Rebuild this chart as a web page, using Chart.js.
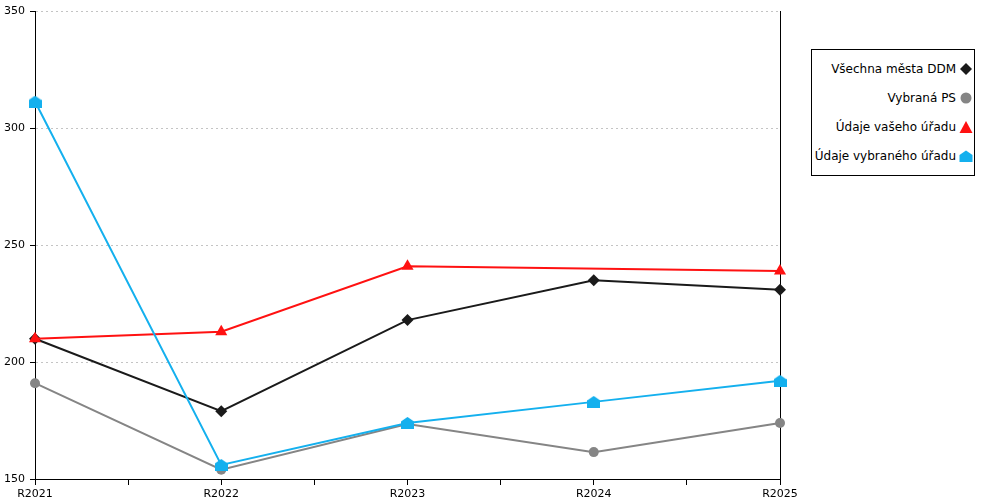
<!DOCTYPE html>
<html>
<head>
<meta charset="utf-8">
<script src="https://cdn.jsdelivr.net/npm/chart.js"></script>
<style>
  html, body { margin: 0; padding: 0; background: #fff; }
  #wrap { position: relative; width: 1000px; height: 500px; }
  #legend {
    position: absolute; left: 811px; top: 49px; width: 162px; height: 125px;
    border: 1px solid #000; background: #fff;
    font: 12px "DejaVu Sans", sans-serif; color: #000;
  }
  #legend .item { position: absolute; right: 1px; height: 16px; display: flex; align-items: center; }
  #legend .item span { margin-right: 3px; white-space: nowrap; }
</style>
</head>
<body>
<div id="wrap">
  <canvas id="chart" width="1000" height="500"></canvas>
  <div id="legend"></div>
</div>
<script>
// categories and values
const years = ['R2021', 'R2022', 'R2023', 'R2024', 'R2025'];
const allCities = [210, 179, 218, 235, 231];
const selectedPS = [191, 154, 173.5, 161.5, 174];
const yourOffice = [210, 213, 241, null, 239];
const selectedOffice = [311.5, 156, 174, 183, 192];
const yTicks = [150, 200, 250, 300, 350];

// "house" shaped marker for the last series
function houseMarker(color) {
    const c = document.createElement('canvas');
    c.width = 13; c.height = 12;
    const g = c.getContext('2d');
    g.fillStyle = color;
    g.beginPath();
    g.moveTo(6.5, 0);
    g.lineTo(13, 4.5);
    g.lineTo(13, 12);
    g.lineTo(0, 12);
    g.lineTo(0, 4.5);
    g.closePath();
    g.fill();
    return c;
}

const cyan = '#14b0ee';
const house = houseMarker(cyan);

function toPoints(arr) {
    return arr.map((v, i) => ({ x: i, y: v }));
}

const series = [
    { label: 'Všechna města DDM', data: allCities, color: '#1a1a1a', style: 'rectRot', radius: 6, order: 4 },
    { label: 'Vybraná PS', data: selectedPS, color: '#858585', style: 'circle', radius: 5, order: 3 },
    { label: 'Údaje vašeho úřadu', data: yourOffice, color: '#ff1111', style: 'triangle', radius: 7, order: 2 },
    { label: 'Údaje vybraného úřadu', data: selectedOffice, color: cyan, style: house, radius: 6, order: 1 }
];

const ctx = document.getElementById('chart');
new Chart(ctx, {
    type: 'line',
    data: {
        datasets: series.map(s => ({
            label: s.label,
            data: toPoints(s.data),
            borderColor: s.color,
            backgroundColor: s.color,
            borderWidth: 2,
            pointStyle: s.style,
            pointRadius: s.radius,
            pointBorderWidth: 0,
            pointBackgroundColor: s.color,
            spanGaps: true,
            tension: 0,
            clip: false,
            order: s.order
        }))
    },
    options: {
        responsive: false,
        animation: false,
        layout: { padding: { top: 11, right: 220, left: 0, bottom: 0 } },
        plugins: {
            legend: { display: false },
            tooltip: { enabled: false }
        },
        scales: {
            x: {
                type: 'linear',
                min: 0,
                max: years.length - 1,
                offset: false,
                afterFit: function(scale) { scale.height = 21; },
                afterBuildTicks: function(scale) {
                    const t = [];
                    for (let v = 0; v <= years.length - 1; v += 0.5) t.push({ value: v });
                    scale.ticks = t;
                },
                ticks: {
                    autoSkip: false,
                    maxRotation: 0,
                    padding: 3,
                    color: '#000',
                    font: { family: 'DejaVu Sans', size: 11 },
                    callback: function(value) {
                        return Number.isInteger(value) ? years[value] : '';
                    }
                },
                grid: {
                    drawOnChartArea: false,
                    drawTicks: true,
                    tickLength: 6,
                    tickColor: '#000',
                    tickBorderDash: []
                },
                border: { display: true, color: '#000', width: 1 }
            },
            y: {
                min: 150,
                max: 350,
                afterFit: function(scale) { scale.width = 35; },
                afterBuildTicks: function(scale) {
                    scale.ticks = yTicks.map(v => ({ value: v }));
                },
                ticks: {
                    padding: 5,
                    color: '#000',
                    font: { family: 'DejaVu Sans', size: 11 }
                },
                grid: {
                    drawOnChartArea: true,
                    drawTicks: true,
                    tickLength: 5,
                    color: '#c4c4c4',
                    tickColor: '#000',
                    tickBorderDash: []
                },
                border: { display: true, color: '#000', width: 1, dash: [2, 3] }
            },
            y2: {
                position: 'right',
                min: 150,
                max: 350,
                afterFit: function(scale) { scale.width = 0; },
                ticks: { display: false },
                grid: { drawOnChartArea: false, drawTicks: false },
                border: { display: true, color: '#000', width: 1 }
            }
        }
    }
});

// legend: text on the left, marker on the right
const legend = document.getElementById('legend');
series.forEach((s, i) => {
    const item = document.createElement('div');
    item.className = 'item';
    item.style.top = (11 + i * 29) + 'px';
    const txt = document.createElement('span');
    txt.textContent = s.label;
    const mk = document.createElement('canvas');
    mk.width = 14; mk.height = 14;
    const g = mk.getContext('2d');
    g.fillStyle = s.color;
    g.beginPath();
    if (s.style === 'rectRot') {
        g.moveTo(7, 1); g.lineTo(13, 7); g.lineTo(7, 13); g.lineTo(1, 7);
    } else if (s.style === 'circle') {
        g.arc(7, 7, 5.5, 0, Math.PI * 2);
    } else if (s.style === 'triangle') {
        g.moveTo(7, 1); g.lineTo(13.5, 13); g.lineTo(0.5, 13);
    } else {
        g.moveTo(7, 1.5); g.lineTo(13.5, 6); g.lineTo(13.5, 13); g.lineTo(0.5, 13); g.lineTo(0.5, 6);
    }
    g.closePath();
    g.fill();
    item.appendChild(txt);
    item.appendChild(mk);
    legend.appendChild(item);
});
</script>
</body>
</html>
